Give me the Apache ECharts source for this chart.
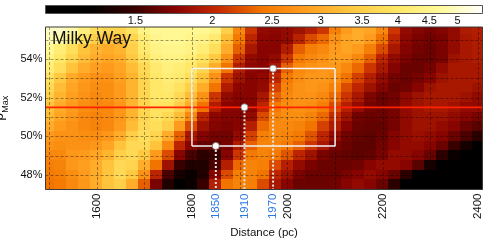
<!DOCTYPE html>
<html><head><meta charset="utf-8">
<script src="https://cdn.jsdelivr.net/npm/echarts@6/dist/echarts.min.js"></script>
<style>html,body{margin:0;padding:0;background:#fff}#c{width:491px;height:240px}</style>
</head><body><div id="c"></div>
<script>
// ---------- data ----------
const distance = [1500,1525,1550,1575,1600,1625,1650,1675,1700,1725,1750,1775,1800,1825,1850,1875,1900,1925,1950,1975,2000,2025,2050,2075,2100,2125,2150,2175,2200,2225,2250,2275,2300,2325,2350,2375,2400];
const pMax = [55.5,55,54.5,54,53.5,53,52.5,52,51.5,51,50.5,50,49.5,49,48.5,48,47.5];
const row55_5 = [5.0,5.0,4.8,4.3,3.8,3.6,3.6,3.9,4.4,4.6,4.6,4.6,4.6,4.6,4.4,3.5,2.6,2.1,1.8,1.77,1.8,1.85,1.95,2.1,2.5,2.8,3.0,2.9,2.6,2.1,1.8,1.73,1.7,1.73,1.8,1.92,1.95];
const row55_0 = [4.9,4.8,4.5,3.9,3.5,3.3,3.3,3.6,4.2,4.5,4.6,4.6,4.5,4.4,4.1,3.2,2.45,2.0,1.77,1.75,1.8,1.98,2.2,2.35,2.7,2.9,3.0,2.8,2.4,2.0,1.77,1.7,1.67,1.7,1.8,1.9,1.93];
const row54_5 = [4.6,4.2,3.8,3.3,3.1,3.0,3.1,3.5,4.1,4.4,4.5,4.5,4.4,4.2,3.8,3.0,2.3,1.9,1.75,1.75,1.93,2.3,2.5,2.6,2.8,2.9,2.8,2.5,2.2,1.9,1.73,1.68,1.65,1.7,1.8,1.9,1.92];
const row54_0 = [4.4,4.0,3.6,3.2,3.0,2.9,3.0,3.4,3.9,4.3,4.4,4.4,4.2,3.9,3.4,2.7,2.1,1.8,1.75,1.8,2.1,2.45,2.6,2.7,2.85,2.8,2.6,2.3,2.0,1.8,1.7,1.65,1.65,1.7,1.85,1.9,1.92];
const row53_5 = [4.2,3.8,3.3,3.0,2.85,2.8,2.9,3.2,3.7,4.1,4.3,4.2,4.0,3.6,3.0,2.4,1.93,1.77,1.75,1.9,2.3,2.6,2.7,2.75,2.75,2.6,2.35,2.1,1.9,1.73,1.65,1.65,1.69,1.8,1.9,1.9,1.9];
const row53_0 = [3.9,3.4,3.0,2.8,2.7,2.7,2.85,3.1,3.6,4.0,4.2,4.1,3.8,3.3,2.7,2.1,1.85,1.75,1.78,2.0,2.45,2.65,2.75,2.75,2.65,2.4,2.15,1.95,1.8,1.68,1.65,1.69,1.75,1.85,1.9,1.9,1.9];
const row52_5 = [3.7,3.2,2.9,2.75,2.65,2.65,2.8,3.1,3.6,4.0,4.1,3.9,3.5,3.0,2.4,1.93,1.77,1.75,1.8,2.15,2.55,2.7,2.75,2.7,2.5,2.2,2.0,1.85,1.73,1.65,1.67,1.75,1.85,1.9,1.9,1.9,1.85];
const row52_0 = [3.5,3.1,2.85,2.7,2.6,2.65,2.8,3.1,3.6,4.0,4.0,3.7,3.2,2.7,2.1,1.8,1.75,1.75,1.9,2.3,2.6,2.7,2.7,2.6,2.35,2.1,1.9,1.72,1.65,1.68,1.78,1.85,1.9,1.9,1.9,1.85,1.8];
const row51_5 = [3.3,3.0,2.8,2.65,2.6,2.6,2.75,3.1,3.6,3.9,3.9,3.5,3.0,2.4,1.93,1.75,1.73,1.75,2.0,2.45,2.65,2.7,2.65,2.5,2.2,1.95,1.8,1.68,1.65,1.69,1.79,1.85,1.9,1.9,1.85,1.8,1.8];
const row51_0 = [3.2,2.9,2.75,2.6,2.55,2.6,2.75,3.1,3.6,3.9,3.7,3.2,2.6,2.0,1.77,1.73,1.73,1.8,2.2,2.55,2.65,2.65,2.55,2.35,2.05,1.85,1.68,1.65,1.65,1.69,1.79,1.85,1.85,1.85,1.8,1.75,1.7];
const row50_5 = [3.0,2.8,2.7,2.6,2.55,2.6,2.8,3.2,3.7,3.8,3.5,2.8,2.2,1.85,1.73,1.71,1.75,1.95,2.35,2.6,2.6,2.55,2.4,2.15,1.93,1.75,1.65,1.63,1.63,1.69,1.79,1.85,1.85,1.8,1.75,1.65,1.6];
const row50_0 = [2.8,2.7,2.7,2.65,2.65,2.75,3.0,3.5,3.8,3.6,3.0,2.3,1.9,1.73,1.68,1.68,1.8,2.15,2.5,2.6,2.55,2.45,2.25,2.0,1.8,1.67,1.63,1.61,1.65,1.73,1.79,1.83,1.8,1.75,1.65,1.55,1.45];
const row49_5 = [2.7,2.65,2.7,2.7,2.75,2.9,3.3,3.7,3.7,3.3,2.6,2.0,1.75,1.63,1.63,1.69,1.93,2.3,2.55,2.55,2.45,2.3,2.1,1.9,1.7,1.65,1.61,1.61,1.67,1.75,1.8,1.8,1.75,1.65,1.5,1.35,1.25];
const row49_0 = [2.6,2.6,2.75,2.8,2.9,3.1,3.5,3.7,3.4,2.8,2.2,1.75,1.55,1.45,1.5,1.75,2.1,2.45,2.55,2.45,2.25,2.0,1.85,1.7,1.65,1.63,1.61,1.63,1.7,1.8,1.8,1.75,1.65,1.45,1.3,1.2,1.15];
const row48_5 = [2.5,2.55,2.75,2.85,3.0,3.3,3.7,3.6,3.0,2.4,1.85,1.5,1.4,1.4,1.55,1.95,2.35,2.55,2.5,2.2,1.95,1.8,1.7,1.65,1.65,1.65,1.67,1.75,1.8,1.8,1.75,1.6,1.35,1.2,1.15,1.12,1.1];
const row48_0 = [2.45,2.5,2.65,2.8,3.0,3.3,3.7,3.4,2.7,2.0,1.55,1.35,1.3,1.4,1.75,2.2,2.5,2.55,2.4,2.0,1.85,1.7,1.65,1.65,1.65,1.7,1.75,1.8,1.75,1.65,1.45,1.2,1.12,1.1,1.1,1.1,1.1];
const row47_5 = [2.4,2.45,2.6,2.75,3.0,3.3,3.5,3.0,2.3,1.7,1.4,1.25,1.3,1.5,1.95,2.4,2.55,2.5,2.2,1.9,1.75,1.65,1.65,1.65,1.67,1.75,1.8,1.75,1.65,1.45,1.25,1.1,1.1,1.1,1.1,1.1,1.1];
const signalRows = [row55_5,row55_0,row54_5,row54_0,row53_5,row53_0,row52_5,row52_0,row51_5,row51_0,row50_5,row50_0,row49_5,row49_0,row48_5,row48_0,row47_5];

const cbarRange = [1.07, 5.5];
const cbarTicks = [1.5, 2, 2.5, 3, 3.5, 4, 4.5, 5];
const xRange = [1493, 2409];
const yRange = [47.25, 55.65];
const xTickLabels = [1600, 1800, 2000, 2200, 2400];
const yTickLabels = [48, 50, 52, 54];
const xGrid = [1500, 1600, 1700, 1800, 1900, 2000, 2100, 2200, 2300, 2400];
const yGrid = [48, 49, 50, 51, 52, 53, 54, 55];
const markedDist = [1850, 1910, 1970];
const markedP = [49.5, 51.5, 53.5];
const boxDist = [1800, 2100];
const boxP = [49.5, 53.5];
const refP = 51.5;

// ---------- style ----------
const FONT = 'Liberation Sans, Arial, Helvetica, sans-serif';
const cmap = ['#000000','#000000','#340000','#880400','#c82c00','#f47800','#ffa020','#ffc840','#ffe664','#fffa98','#ffffff'];
const BLUE = '#2b78e4';

const cells = [];
pMax.forEach((p, i) => distance.forEach((d, j) => {
  const v = signalRows[i][j];
  cells.push([d, p, v, Math.log(v)]);
}));
const DX = distance[1] - distance[0];
const DP = pMax[0] - pMax[1];

const allXLabels = xTickLabels.concat(markedDist).sort((a, b) => a - b);

const chart = echarts.init(document.getElementById('c'), null, {renderer: 'canvas'});
const series = [];

series.push({
  type: 'custom', name: 'signal', xAxisIndex: 0, yAxisIndex: 0, clip: true, z: 1,
  data: cells,
  renderItem(params, api) {
    const d = api.value(0), p = api.value(1);
    const a = api.coord([d - DX / 2, p + DP / 2]);
    const b = api.coord([d + DX / 2, p - DP / 2]);
    const x0 = Math.floor(a[0]), y0 = Math.floor(a[1]);
    const x1 = Math.ceil(b[0]), y1 = Math.ceil(b[1]);
    return {type: 'rect', shape: {x: x0, y: y0, width: x1 - x0, height: y1 - y0},
      style: {fill: api.visual('color')}};
  }
});
series.push({
  type: 'custom', name: 'vgrid', xAxisIndex: 0, yAxisIndex: 0, z: 3, silent: true,
  data: xGrid.map(v => [v, yRange[0]]),
  renderItem(params, api) {
    const cs = params.coordSys;
    const x = Math.round(api.coord([api.value(0), api.value(1)])[0]) + 0.5;
    return {type: 'line', shape: {x1: x, y1: cs.y, x2: x, y2: cs.y + cs.height},
      style: {stroke: 'rgba(0,0,0,0.38)', lineWidth: 1, lineDash: [3, 2]}};
  }
});
series.push({
  type: 'custom', name: 'hgrid', xAxisIndex: 0, yAxisIndex: 0, z: 3, silent: true,
  data: yGrid.map(v => [xRange[0], v]),
  renderItem(params, api) {
    const cs = params.coordSys;
    const y = Math.round(api.coord([api.value(0), api.value(1)])[1]) + 0.5;
    return {type: 'line', shape: {x1: cs.x, y1: y, x2: cs.x + cs.width, y2: y},
      style: {stroke: 'rgba(0,0,0,0.38)', lineWidth: 1, lineDash: [3, 2]}};
  }
});
series.push({
  type: 'line', name: 'ref', z: 5, symbol: 'none', silent: true,
  data: [[xRange[0], refP], [xRange[1], refP]],
  lineStyle: {color: '#ff2200', width: 1.8}
});
series.push({
  type: 'line', name: 'box', z: 5, symbol: 'none', silent: true,
  data: [[boxDist[0], boxP[0]], [boxDist[1], boxP[0]], [boxDist[1], boxP[1]], [boxDist[0], boxP[1]], [boxDist[0], boxP[0]]],
  lineStyle: {color: '#f4f4f4', width: 1.5}
});
markedDist.forEach((d, i) => {
  series.push({
    type: 'line', name: 'drop' + i, z: 5, symbol: 'none', silent: true,
    data: [[d, markedP[i]], [d, yRange[0]]],
    lineStyle: {color: '#e6e6e6', width: 2, type: [2, 2]}
  });
});
series.push({
  type: 'scatter', name: 'points', z: 6, symbolSize: 7, silent: true,
  data: markedDist.map((d, i) => [d, markedP[i]]),
  itemStyle: {color: '#ffffff', borderColor: '#777', borderWidth: 0.8, opacity: 1}
});
series.push({
  type: 'custom', name: 'colorbar', xAxisIndex: 1, yAxisIndex: 1, z: 2, silent: true,
  data: [[Math.log(cbarRange[0]), Math.log(cbarRange[1])]],
  renderItem(params, api) {
    const a = api.coord([api.value(0), 0]);
    const b = api.coord([api.value(1), 1]);
    const stops = cmap.map((c, k) => ({offset: k / (cmap.length - 1), color: c}));
    return {type: 'rect', shape: {x: Math.round(a[0]) + 0.5, y: Math.round(b[1]) + 0.5,
      width: Math.round(b[0] - a[0]) - 1, height: Math.round(a[1] - b[1])},
      style: {fill: new echarts.graphic.LinearGradient(0, 0, 1, 0, stops), stroke: '#555', lineWidth: 1}};
  }
});

chart.setOption({
  animation: false,
  backgroundColor: '#ffffff',
  textStyle: {fontFamily: FONT},
  grid: [
    {left: 45.5, top: 27, width: 437, height: 162.5, show: true, z: 10, outerBoundsMode: 'none', containLabel: false,
      backgroundColor: 'transparent', borderColor: '#3a3a3a', borderWidth: 1},
    {left: 45, top: 5, width: 438, height: 7.5, show: false, outerBoundsMode: 'none', containLabel: false}
  ],
  visualMap: {
    type: 'continuous', show: false, seriesIndex: 0, dimension: 3,
    min: Math.log(cbarRange[0]), max: Math.log(cbarRange[1]),
    inRange: {color: cmap}
  },
  xAxis: [
    {type: 'value', gridIndex: 0, min: xRange[0], max: xRange[1],
      name: 'Distance (pc)', nameLocation: 'middle', nameGap: 34,
      nameTextStyle: {fontSize: 11.5, color: '#111', fontFamily: FONT},
      axisLine: {show: false}, axisTick: {show: false}, splitLine: {show: false},
      axisLabel: {customValues: allXLabels, rotate: 90, margin: 4, fontSize: 11.5,
        color: '#111', fontFamily: FONT, hideOverlap: false,
        formatter: v => markedDist.indexOf(v) >= 0 ? '{b|' + v + '}' : String(v),
        rich: {b: {color: BLUE, fontSize: 11.5, fontFamily: FONT}}}},
    {type: 'value', gridIndex: 1, min: Math.log(cbarRange[0]), max: Math.log(cbarRange[1]),
      axisLine: {show: false}, axisTick: {show: false}, splitLine: {show: false},
      axisLabel: {customValues: cbarTicks.map(Math.log), margin: 3, fontSize: 11,
        color: '#111', fontFamily: FONT, hideOverlap: false,
        formatter: v => {
          let best = cbarTicks[0];
          cbarTicks.forEach(t => { if (Math.abs(Math.log(t) - v) < Math.abs(Math.log(best) - v)) best = t; });
          return String(best);
        }}}
  ],
  yAxis: [
    {type: 'value', gridIndex: 0, min: yRange[0], max: yRange[1],
      name: '{p|p}{s|Max}', nameLocation: 'middle', nameGap: 27,
      nameTextStyle: {color: '#111', fontFamily: FONT,
        rich: {p: {fontSize: 14, color: '#111', fontFamily: FONT},
               s: {fontSize: 9, color: '#111', fontFamily: FONT, verticalAlign: 'bottom', padding: [0, 0, -3, 0]}}},
      axisLine: {show: false}, axisTick: {show: false}, splitLine: {show: false},
      axisLabel: {customValues: yTickLabels, margin: 3, fontSize: 11, color: '#111',
        fontFamily: FONT, formatter: v => v + '%'}},
    {type: 'value', gridIndex: 1, min: 0, max: 1, show: false}
  ],
  graphic: [
    {type: 'text', left: 52, top: 30, z: 20, silent: true,
      style: {text: 'Milky Way', fontSize: 17.5, fontFamily: FONT, fill: '#111'}}
  ],
  series
});
</script>
</body></html>
